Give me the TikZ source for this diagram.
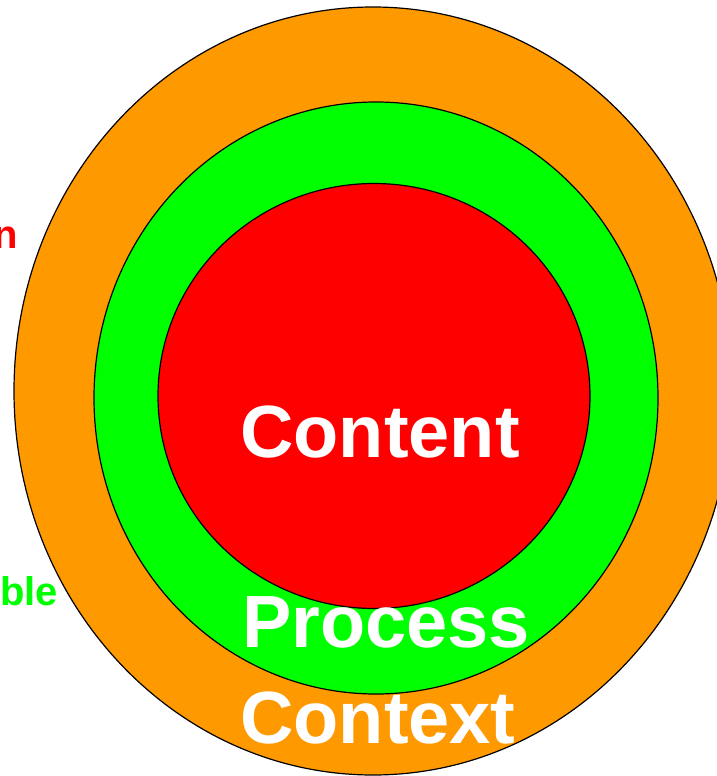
\documentclass[tikz,border=0pt]{standalone}
\usepackage{fontspec}
\setmainfont{Liberation Sans}
\usepackage{xcolor}
\usetikzlibrary{shapes.geometric, positioning}
\definecolor{contextcolor}{RGB}{255,153,0}
\definecolor{processcolor}{RGB}{0,255,0}
\definecolor{contentcolor}{RGB}{255,0,0}

\begin{document}
\begin{tikzpicture}[
    x=1pt, y=-1pt,
    layer/.style={draw, ellipse, line width=1.2pt, inner sep=0pt},
    biglabel/.style={anchor=base west, inner sep=0pt, text=white, font=\fontsize{74}{80}\selectfont\bfseries},
    sidelabel/.style={inner sep=0pt, font=\fontsize{40}{44}\selectfont\bfseries}
]
    \useasboundingbox (0,0) rectangle (717,776);
    \clip (0,0) rectangle (717,776);

    \node[layer, fill=contextcolor, minimum width=718pt, minimum height=768pt] (context) at (373,391) {};
    \node[layer, fill=processcolor, minimum width=564pt, minimum height=592pt] (process) at (376,398) {};
    \node[layer, fill=contentcolor, minimum width=432pt, minimum height=425pt] (content) at (374,396) {};

    \node[biglabel] (contentlabel) at (240,457) {Content};
    \node[biglabel] (processlabel) at (242,647) {Process};
    \node[biglabel] (contextlabel) at (240,743) {Context};

    \node[sidelabel, anchor=base east, text=contentcolor] (contentside) at (18,248) {n};
    \node[sidelabel, anchor=base west, text=processcolor] (processside) at (0,605) {ble};
\end{tikzpicture}
\end{document}
